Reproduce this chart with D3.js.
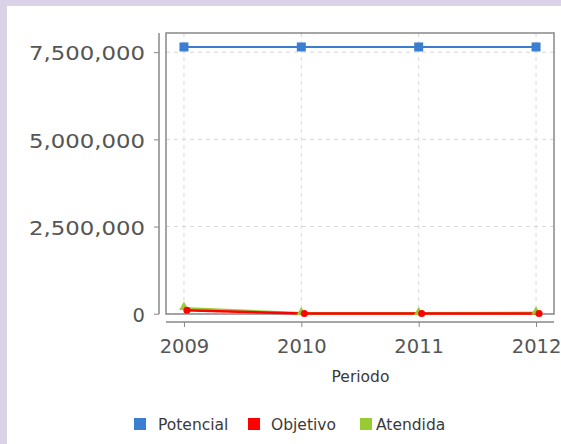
<!DOCTYPE html>
<html><head><meta charset="utf-8">
<script src="https://cdn.jsdelivr.net/npm/d3@7/dist/d3.min.js"></script>
<style>
html,body{margin:0;padding:0;background:#fff;}
svg{display:block;}
</style></head>
<body>
<svg id="c" width="561" height="444"></svg>
<script>
const periods = ["2009","2010","2011","2012"];
const potencial = [7650000, 7650000, 7650000, 7650000];
const objetivo = [100000, 5000, 5000, 5000];
const atendida = [160000, 10000, 10000, 25000];
const yTicks = [0, 2500000, 5000000, 7500000];
const seriesNames = ["Potencial","Objetivo","Atendida"];
const seriesColors = ["#3b7dd0","#ff0000","#99cc33"];

const svg = d3.select("#c");
svg.append("rect").attr("x",0).attr("y",0).attr("width",561).attr("height",444).attr("fill","#dad2e6");
svg.append("rect").attr("x",7).attr("y",6).attr("width",554).attr("height",438).attr("fill","#fff");

const box = {l:166, r:554, t:33, b:314};
const x = d3.scalePoint().domain(periods).range([box.l, box.r]).padding(0.153);
const y = d3.scaleLinear().domain([-8000, 8050000]).range([box.b, box.t]);

const g = svg.append("g");
g.selectAll(".gx").data(periods).enter().append("line")
  .attr("x1",d=>x(d)).attr("x2",d=>x(d)).attr("y1",box.t).attr("y2",box.b)
  .attr("stroke","#d8d8d8").attr("stroke-dasharray","4,4").attr("stroke-width",1);
g.selectAll(".gy").data(yTicks).enter().append("line")
  .attr("x1",box.l).attr("x2",box.r).attr("y1",d=>y(d)).attr("y2",d=>y(d))
  .attr("stroke","#d8d8d8").attr("stroke-dasharray","4,4").attr("stroke-width",1);

svg.append("rect").attr("x",box.l).attr("y",box.t).attr("width",box.r-box.l).attr("height",box.b-box.t)
  .attr("fill","none").attr("stroke","#888").attr("stroke-width",1.5);

const tickFont = sel => sel.attr("font-family","'DejaVu Sans'")
  .attr("font-size",19.5).attr("fill","#555");

const yAxis = d3.axisLeft(y).tickValues(yTicks).tickFormat(d3.format(",")).tickSize(5).tickPadding(9);
const ya = svg.append("g").attr("transform","translate(159,0)").call(yAxis);
ya.select(".domain").attr("d",`M0,${box.t}V${box.b}`).attr("stroke","#888").attr("stroke-width",1.5);
ya.selectAll(".tick line").attr("stroke","#888");
ya.selectAll("text").call(tickFont).attr("dy","0.4em")
  .each(function(d){ if(String(d3.format(",")(d)).length>3){ d3.select(this).attr("textLength",116).attr("lengthAdjust","spacingAndGlyphs"); } });

const xAxis = d3.axisBottom(x).tickSize(5).tickPadding(12.5);
const xa = svg.append("g").attr("transform","translate(0,322)").call(xAxis);
xa.select(".domain").attr("d",`M${box.l},0H${box.r}`).attr("stroke","#888").attr("stroke-width",1.5);
xa.selectAll(".tick line").attr("stroke","#888");
xa.selectAll("text").call(tickFont);

const legFont = sel => sel.attr("font-family","'DejaVu Sans'")
  .attr("font-size",15.5).attr("fill","#3a3a3a");

svg.append("text").attr("x",360.5).attr("y",382).attr("text-anchor","middle").call(legFont).text("Periodo");

const allSeries = [potencial, objetivo, atendida];
const line = d3.line().x((d,i)=>x(periods[i])).y(d=>y(d));
[2,1,0].forEach(si=>{
  svg.append("path").datum(allSeries[si]).attr("d",line).attr("fill","none")
    .attr("stroke",seriesColors[si]).attr("stroke-width", si===0?2:2.5);
});
svg.selectAll(".mb").data(potencial).enter().append("rect")
  .attr("x",(d,i)=>x(periods[i])-4.5).attr("y",d=>y(d)-4.5).attr("width",9).attr("height",9).attr("fill",seriesColors[0]);
const tri = d3.symbol().type(d3.symbolTriangle).size(40);
svg.selectAll(".mg").data(atendida).enter().append("path")
  .attr("d",tri).attr("transform",(d,i)=>`translate(${x(periods[i])},${y(d)-1})`).attr("fill",seriesColors[2]);
const circ = d3.symbol().type(d3.symbolCircle).size(40);
svg.selectAll(".mr").data(objetivo).enter().append("path")
  .attr("d",circ).attr("transform",(d,i)=>`translate(${x(periods[i])+3},${y(d)})`).attr("fill",seriesColors[1]);

const legSq = [134, 248, 360];
const legTx = [158, 271, 376];
seriesNames.forEach((n,i)=>{
  svg.append("rect").attr("x",legSq[i]).attr("y",418).attr("width",12).attr("height",12).attr("fill",seriesColors[i]);
  svg.append("text").attr("x",legTx[i]).attr("y",430).call(legFont).text(n);
});
</script>
</body></html>
